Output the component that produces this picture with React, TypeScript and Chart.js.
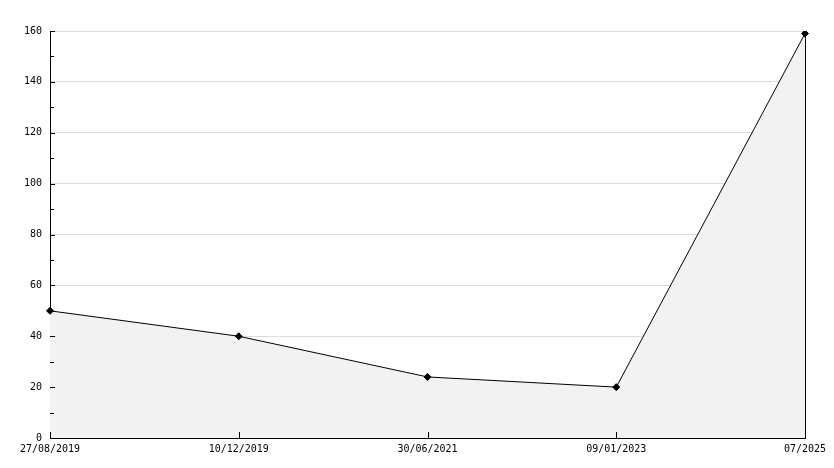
import React, { useEffect, useRef } from "react";
import { Chart, registerables } from "chart.js";

Chart.register(...registerables);

const categories = ["27/08/2019", "10/12/2019", "30/06/2021", "09/01/2023", "07/2025"];
const values = [50, 40, 24, 20, 159];
const yMin = 0;
const yMax = 160;
const yStep = 20;
const yMinorStep = 10;

const inwardTicks = {
  id: "inwardTicks",
  afterDraw(chart: any) {
    const ctx = chart.ctx;
    const xs = chart.scales.x;
    const ys = chart.scales.y;
    const area = chart.chartArea;
    ctx.save();
    ctx.strokeStyle = "#000";
    ctx.lineWidth = 1;
    ctx.beginPath();
    for (let v = yMin; v <= yMax; v += yMinorStep) {
      const py = Math.round(ys.getPixelForValue(v)) + 0.5;
      const len = v % yStep === 0 ? 5 : 4;
      ctx.moveTo(area.left, py);
      ctx.lineTo(area.left + len, py);
    }
    for (let i = 0; i < categories.length; i++) {
      const px = Math.round(xs.getPixelForValue(i)) + 0.5;
      ctx.moveTo(px, area.bottom);
      ctx.lineTo(px, area.bottom - 6);
    }
    ctx.stroke();
    ctx.restore();
  },
};

export default function App() {
  const ref = useRef<HTMLCanvasElement | null>(null);
  useEffect(() => {
    if (!ref.current) return;
    Chart.defaults.font.family = "'DejaVu Sans Mono', monospace";
    Chart.defaults.font.size = 10;
    Chart.defaults.color = "#000";
    const chart = new Chart(ref.current, {
      type: "line",
      data: {
        labels: categories,
        datasets: [
          {
            data: values,
            borderColor: "#000",
            borderWidth: 1,
            backgroundColor: "#f2f2f2",
            fill: "origin",
            tension: 0,
            pointStyle: "rectRot",
            pointRadius: 3.5,
            pointBackgroundColor: "#000",
            pointBorderColor: "#000",
            pointBorderWidth: 1,
          },
        ],
      },
      options: {
        animation: false,
        responsive: true,
        maintainAspectRatio: false,
        layout: { padding: { left: 0, right: 29, top: 31, bottom: 0 } },
        plugins: { legend: { display: false }, tooltip: { enabled: false } },
        scales: {
          x: {
            type: "category",
            offset: false,
            grid: { display: false, drawTicks: false },
            border: { display: true, color: "#000", width: 1 },
            ticks: { padding: 5, maxRotation: 0, autoSkip: false, color: "#000" },
            afterFit(scale: any) {
              scale.height = 30;
            },
          },
          y: {
            min: yMin,
            max: yMax,
            grid: { color: "#dcdcdc", drawTicks: false },
            border: { display: true, color: "#000", width: 1 },
            ticks: { stepSize: yStep, padding: 8, color: "#000" },
            afterFit(scale: any) {
              scale.width = 50;
            },
          },
          yRight: {
            position: "right",
            min: yMin,
            max: yMax,
            grid: { display: false, drawTicks: false },
            border: { display: true, color: "#000", width: 1 },
            ticks: { display: false },
            afterFit(scale: any) {
              scale.width = 0;
            },
          },
        },
      },
      plugins: [inwardTicks],
    });
    return () => chart.destroy();
  }, []);
  return (
    <div style={{ position: "fixed", left: 0, top: 0, width: 834, height: 468, background: "#fff" }}>
      <canvas ref={ref} />
    </div>
  );
}
